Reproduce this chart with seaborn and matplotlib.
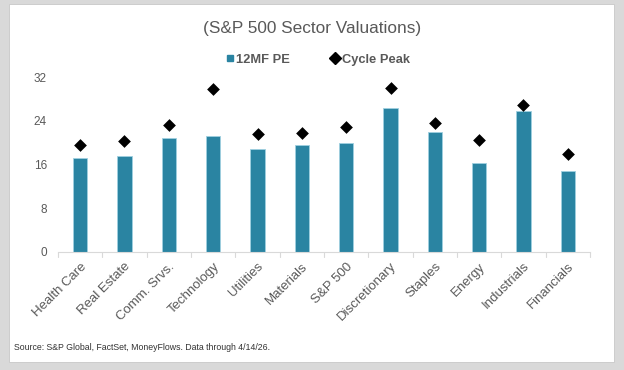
import matplotlib
matplotlib.use("Agg")
import matplotlib.pyplot as plt
import matplotlib.patches as mpatches
from matplotlib.lines import Line2D
import pandas as pd
import seaborn as sns

sectors = ["Health Care", "Real Estate", "Comm. Srvs.", "Technology", "Utilities",
           "Materials", "S&P 500", "Discretionary", "Staples", "Energy",
           "Industrials", "Financials"]
pe_12mf = [17.2, 17.5, 20.9, 21.3, 18.9, 19.6, 20.0, 26.4, 21.9, 16.3, 25.7, 14.8]
cycle_peak = [19.6, 20.3, 23.3, 29.8, 21.6, 21.7, 22.8, 30.0, 23.6, 20.5, 26.8, 18.0]
y_ticks = [0, 8, 16, 24, 32]

df = pd.DataFrame({"Sector": sectors, "12MF PE": pe_12mf, "Cycle Peak": cycle_peak})

sns.set_style("white")
plt.rcParams["font.family"] = ["Liberation Sans", "DejaVu Sans"]

bar_color = "#2a84a2"
grey_txt = "#595959"

fig = plt.figure(figsize=(6.24, 3.70), dpi=100)
fig.patch.set_facecolor("#d9d9d9")
# white panel inside the grey frame, kept behind the axes
panel = mpatches.Rectangle((9 / 624, 1 - 362 / 370), (614 - 9) / 624, (362 - 4) / 370,
                           transform=fig.transFigure, facecolor="white",
                           edgecolor="#c8c8c8", linewidth=0.6, zorder=-10)
fig.patches.append(panel)

ax = fig.add_axes([58 / 624, 1 - 252 / 370, (590 - 58) / 624, (252 - 77) / 370])
ax.set_facecolor("none")

sns.barplot(data=df, x="Sector", y="12MF PE", color=bar_color, width=0.32,
            edgecolor="#9fd0e0", linewidth=0.6, saturation=1, ax=ax, zorder=2)
sns.stripplot(data=df, x="Sector", y="Cycle Peak", jitter=False, marker="D",
              color="black", size=6.5, ax=ax, zorder=3, clip_on=False)

ax.set_ylim(0, 32)
ax.set_xlim(-0.5, len(sectors) - 0.5)
ax.set_yticks(y_ticks)
ax.set_yticklabels([str(t) for t in y_ticks], fontsize=8.5, color=grey_txt)
ax.set_xticks(range(len(sectors)))
ax.set_xticklabels(sectors, rotation=45, ha="right", rotation_mode="anchor",
                   fontsize=9.5, color=grey_txt)
ax.set_xlabel("")
ax.set_ylabel("")
ax.tick_params(axis="y", length=0, pad=8)
ax.tick_params(axis="x", length=0, pad=6)

# category separator ticks below the axis line
for i in range(len(sectors) + 1):
    ax.plot([i - 0.5, i - 0.5], [0, -0.9], color="#d9d9d9", lw=0.8, clip_on=False)

for side in ["top", "right", "left"]:
    ax.spines[side].set_visible(False)
ax.spines["bottom"].set_color("#d9d9d9")
ax.spines["bottom"].set_linewidth(0.8)

fig.text(0.5, 1 - 28 / 370, "(S&P 500 Sector Valuations)", ha="center", va="center",
         fontsize=12.4, color=grey_txt)

handles = [
    Line2D([0], [0], marker="s", color="none", markerfacecolor=bar_color,
           markeredgecolor=bar_color, markersize=5),
    Line2D([0], [0], marker="D", color="none", markerfacecolor="black",
           markeredgecolor="black", markersize=6),
]
leg = fig.legend(handles, ["12MF PE", "Cycle Peak"], loc="center",
                 bbox_to_anchor=(318 / 624, 1 - 60 / 370), ncol=2, frameon=False,
                 handlelength=0.6, handletextpad=0.2, columnspacing=3.2,
                 prop={"size": 9.3, "weight": "bold"})
for t in leg.get_texts():
    t.set_color(grey_txt)

fig.text(14 / 624, 1 - 348 / 370, "Source: S&P Global, FactSet, MoneyFlows. Data through 4/14/26.",
         ha="left", va="center", fontsize=6.3, color="#333333")

fig.savefig("out.png", dpi=100, facecolor=fig.get_facecolor())
